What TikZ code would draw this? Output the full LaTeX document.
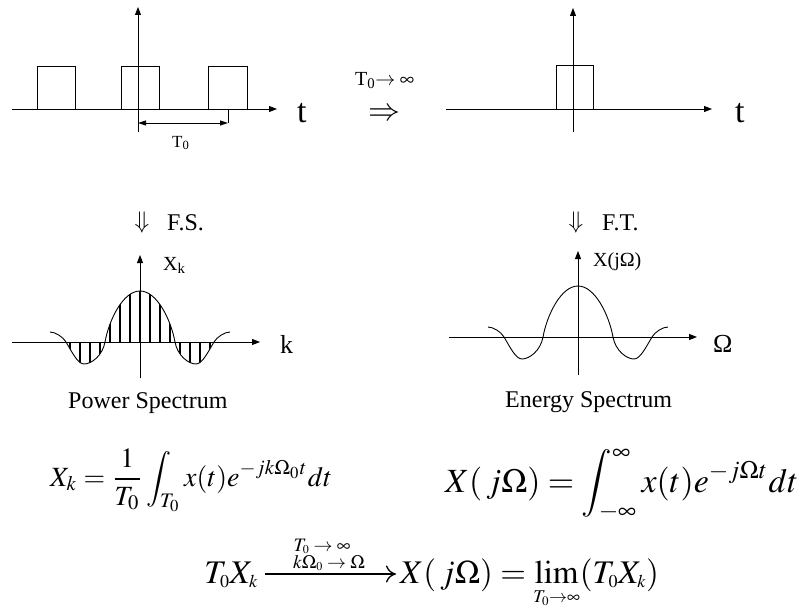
\documentclass[tikz,border=0pt]{standalone}
\usepackage{amsmath}
\usepackage{mathptmx}
\usepackage{fontspec}
\setmainfont{Liberation Serif}
\usetikzlibrary{arrows.meta}
\DeclareMathSizes{33}{33}{18}{13}
\DeclareMathSizes{19}{19}{12}{9}
\DeclareMathSizes{32}{32}{20}{15}
\tikzset{
  axisline/.style={line width=0.9pt, -{Triangle[length=8pt,width=6pt]}},
  sigline/.style={line width=0.9pt},
  dimline/.style={line width=0.9pt, {Triangle[length=8pt,width=5pt]}-{Triangle[length=8pt,width=5pt]}},
  stemline/.style={line width=2.8pt},
  marrow/.style={line width=1.3pt, -{Computer Modern Rightarrow[length=10pt,width=17pt,line width=1.3pt]}},
  lbl/.style={inner sep=0pt},
  fbig/.style={lbl, font=\fontsize{34}{36}\selectfont},
  fmid/.style={lbl, font=\fontsize{26}{28}\selectfont},
  fcap/.style={lbl, font=\fontsize{24}{26}\selectfont},
  fsmall/.style={lbl, font=\fontsize{20}{22}\selectfont},
  ftiny/.style={lbl, font=\fontsize{17}{19}\selectfont},
  fcond/.style={lbl, font=\fontsize{19}{21}\selectfont},
  feq/.style={lbl, font=\fontsize{33}{35}\selectfont},
}
\begin{document}
\begin{tikzpicture}[x=1pt,y=-1pt]
\useasboundingbox (0,0) rectangle (806,610);

% ---------- top left: periodic pulses ----------
\draw[axisline] (12,109) -- (277,109);
\draw[axisline] (138,132) -- (138,7);
\draw[sigline] (37,109) -- (37,66) -- (75,66) -- (75,109);
\draw[sigline] (121,109) -- (121,66) -- (159,66) -- (159,109);
\draw[sigline] (208,109) -- (208,66) -- (247,66) -- (247,109);
\coordinate (tickA) at (228,110);
\coordinate (tickB) at (228,123);
\coordinate (dimL) at (138,123);
\draw[sigline] (tickA) -- (tickB);
\draw[dimline] (dimL) -- (tickB);
\node[ftiny, anchor=base west] (T0lab) at (172,147) {T\textsubscript{0}};
\node[fbig, anchor=base west] (t1) at (297,122) {t};

% ---------- middle arrow ----------
\node[fsmall, anchor=base west] (lim1) at (355,85) {T\textsubscript{0}$\rightarrow\infty$};
\node[lbl, font=\fontsize{32}{34}\selectfont] (impl) at (384,115) {$\Rightarrow$};

% ---------- top right: single pulse ----------
\draw[axisline] (446,109) -- (712,109);
\draw[axisline] (573,132) -- (573,8);
\draw[sigline] (556,109) -- (556,65) -- (593,65) -- (593,109);
\node[fbig, anchor=base west] (t2) at (735,122) {t};

% ---------- transforms ----------
\node[fcap] (da1) at (142,222) {$\Downarrow$};
\node[fcap, anchor=base west] (fsl) at (167,230) {F.S.};
\node[fcap] (da2) at (576,222) {$\Downarrow$};
\node[fcap, anchor=base west] (ftl) at (602,230) {F.T.};

% ---------- left spectrum (lines) ----------
\draw[axisline] (12,342) -- (260,342);
\draw[axisline] (140,378) -- (140,255);
\node[fsmall, anchor=base west] (xk) at (163,270) {X\textsubscript{k}};
\node[fmid, anchor=base west] (kl) at (280,353) {k};
\begin{scope}[shift={(140,342)}, yscale=-1]
  \begin{scope}
    \clip (-74,0) .. controls (-68,-10) and (-62.3,-22) .. (-56,-22)
      .. controls (-48.6,-22) and (-37.5,-13.75) .. (-35,0)
      .. controls (-31,22) and (-17,51) .. (0,51)
      .. controls (17,51) and (31,22) .. (35,0)
      .. controls (37.5,-13.75) and (48.6,-22) .. (56,-22)
      .. controls (62.3,-22) and (68,-10) .. (74,0) -- cycle;
    \foreach \u in {-70,-60,...,70} \draw[stemline] (\u,-30) -- (\u,60);
  \end{scope}
  \draw[sigline] (-90,10) .. controls (-84.4,10) and (-77,5) .. (-74,0)
      .. controls (-68,-10) and (-62.3,-22) .. (-56,-22)
      .. controls (-48.6,-22) and (-37.5,-13.75) .. (-35,0)
      .. controls (-31,22) and (-17,51) .. (0,51)
      .. controls (17,51) and (31,22) .. (35,0)
      .. controls (37.5,-13.75) and (48.6,-22) .. (56,-22)
      .. controls (62.3,-22) and (68,-10) .. (74,0)
      .. controls (77,5) and (84.4,10) .. (90,10);
\end{scope}
\node[fcap, anchor=base west] (ps) at (68,408) {Power Spectrum};

% ---------- right spectrum (continuous) ----------
\draw[axisline] (449,337) -- (697,337);
\draw[axisline] (578,375) -- (578,251);
\node[fsmall, anchor=base west] (xjw) at (593,266) {X(jΩ)};
\node[fmid, anchor=base west] (wl) at (713,352) {Ω};
\begin{scope}[shift={(578,337)}, yscale=-1]
  \draw[sigline] (-90,10) .. controls (-84.4,10) and (-77,5) .. (-74,0)
      .. controls (-68,-10) and (-62.3,-22) .. (-56,-22)
      .. controls (-48.6,-22) and (-37.5,-13.75) .. (-35,0)
      .. controls (-31,22) and (-17,51) .. (0,51)
      .. controls (17,51) and (31,22) .. (35,0)
      .. controls (37.5,-13.75) and (48.6,-22) .. (56,-22)
      .. controls (62.3,-22) and (68,-10) .. (74,0)
      .. controls (77,5) and (84.4,10) .. (90,10);
\end{scope}
\node[fcap, anchor=base west] (es) at (505,407) {Energy Spectrum};

% ---------- formulas ----------
\node[lbl, anchor=base west] (eqfs) at (50,486)
  {\resizebox{282pt}{!}{$\displaystyle X_{k} = \frac{1}{T_0}\int_{T_0} x(t)e^{-jk\Omega_0 t}dt$}};
\node[lbl, anchor=base west] (eqft) at (445,492)
  {\resizebox{353pt}{!}{$\displaystyle X(\,j\Omega) = \int_{-\infty}^{\infty} x(t)e^{-j\Omega t}dt$}};

\node[feq, anchor=base east] (lhs) at (258,583) {$T_0X_{k}$};
\node[feq, anchor=base west] (rhs) at (400,583)
  {$\displaystyle X(\,j\Omega) = \lim_{T_0\to\infty}(T_0X_{k})$};
\draw[marrow] ([xshift=7pt,yshift=9pt]lhs.base east) -- ([xshift=-4pt,yshift=9pt]rhs.base west);
\node[fcond, anchor=base] (cond1) at (322,551) {$T_0\to\infty$};
\node[fcond, anchor=base] (cond2) at (329,568) {$k\Omega_0\to\Omega$};
\end{tikzpicture}
\end{document}
